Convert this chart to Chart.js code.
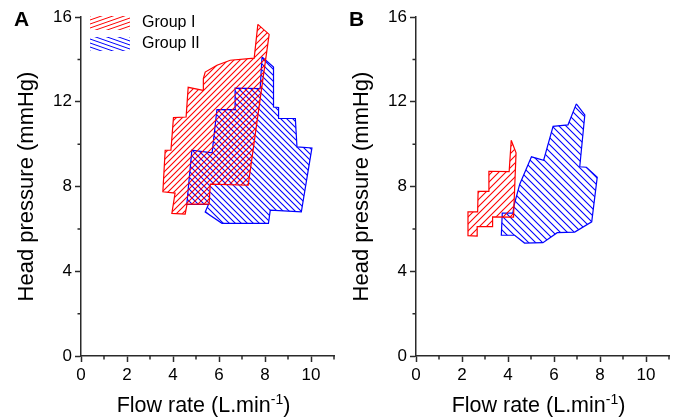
<!DOCTYPE html>
<html><head><meta charset="utf-8">
<script src="https://cdn.jsdelivr.net/npm/chart.js@4.4.0/dist/chart.umd.min.js"></script>
<style>
html,body{margin:0;padding:0;background:#fff;}
#wrap{position:relative;width:693px;height:419px;overflow:hidden;background:#fff;}
.pan{position:absolute;top:0;width:346px;height:419px;}
</style></head><body>
<div id="wrap">
<div class="pan" style="left:0px"><canvas id="cA" width="346" height="419"></canvas></div>
<div class="pan" style="left:335px"><canvas id="cB" width="346" height="419"></canvas></div>
</div>
<script>
// ---------------- data ----------------
const groupNames = ['Group I', 'Group II'];
const panelLetters = ['A', 'B'];
const xTitleMain = 'Flow rate (L.min';
const xTitleSup = '-1';
const xTitleTail = ')';
const yTitle = 'Head pressure (mmHg)';
const xMajorTicks = [0, 2, 4, 6, 8, 10];
const xMinorTicks = [1, 3, 5, 7, 9, 11];
const yMajorTicks = [0, 4, 8, 12, 16];
const yMinorTicks = [2, 6, 10, 14];

// Panel A, Group I (outline vertices: flow rate, head pressure)
const a1x = [7.69, 8.18, 7.27, 5.62, 5.57, 4.61, 4.53, 3.95, 4.09, 3.56, 3.66, 3.91, 4.02, 4.57, 4.66, 5.31, 5.32, 5.40, 5.91, 6.49, 7.53];
const a1y = [15.65, 15.18, 8.06, 8.11, 7.17, 7.17, 6.70, 6.73, 7.69, 7.75, 9.71, 9.71, 11.25, 11.28, 12.68, 12.54, 13.09, 13.40, 13.72, 13.96, 14.06];
// Panel A, Group II
const a2x = [7.87, 8.37, 8.37, 8.59, 8.59, 9.32, 9.39, 10.04, 9.58, 8.23, 8.15, 6.13, 5.40, 5.54, 4.60, 4.82, 5.70, 5.91, 6.70, 6.70, 7.79];
const a2y = [14.11, 13.64, 11.75, 11.73, 11.21, 11.21, 9.87, 9.82, 6.80, 6.88, 6.26, 6.26, 6.80, 7.15, 7.15, 9.71, 9.59, 11.63, 11.63, 12.64, 12.62];
// Panel B, Group I
const b1x = [4.14, 4.35, 4.24, 3.33, 3.33, 2.66, 2.66, 2.26, 2.26, 2.68, 2.70, 3.14, 3.17, 4.05];
const b1y = [10.18, 9.59, 6.55, 6.57, 6.11, 6.11, 5.66, 5.68, 6.80, 6.80, 7.77, 7.77, 8.72, 8.70];
// Panel B, Group II
const b2x = [6.97, 7.34, 7.12, 7.41, 7.88, 7.64, 6.90, 6.14, 5.52, 4.72, 4.29, 3.71, 3.75, 4.21, 4.27, 4.51, 5.02, 5.55, 5.96, 6.61];
const b2y = [11.90, 11.38, 8.93, 8.91, 8.44, 6.33, 5.85, 5.82, 5.35, 5.33, 5.70, 5.70, 6.74, 6.74, 7.14, 8.11, 9.40, 9.24, 10.84, 10.91];

// ---------------- helpers ----------------
const FONT = '"Liberation Sans", Arial, Helvetica, sans-serif';
const RED = '#ff0000', BLUE = '#0000ff', AXIS = '#2a2a2a';

function closed(xs, ys) {
  const pts = xs.map((x, i) => ({x: x, y: ys[i]}));
  pts.push({x: xs[0], y: ys[0]});
  return pts;
}
function hatch(color, size, dir) {
  const c = document.createElement('canvas');
  c.width = size; c.height = size;
  const g = c.getContext('2d');
  g.strokeStyle = color; g.lineWidth = 1.1;
  g.beginPath();
  if (dir > 0) {
    g.moveTo(-1, size + 1); g.lineTo(size + 1, -1);
    g.moveTo(-1, 1); g.lineTo(1, -1);
    g.moveTo(size - 1, size + 1); g.lineTo(size + 1, size - 1);
  } else {
    g.moveTo(-1, -1); g.lineTo(size + 1, size + 1);
    g.moveTo(size - 1, -1); g.lineTo(size + 1, 1);
    g.moveTo(-1, size - 1); g.lineTo(1, size + 1);
  }
  g.stroke();
  return g.createPattern(c, 'repeat');
}

const decor = {
  id: 'decor',
  afterDraw(chart, args, opts) {
    const {ctx, scales: {x, y}} = chart;
    ctx.save();
    // minor ticks
    ctx.strokeStyle = AXIS; ctx.lineWidth = 1.5;
    ctx.beginPath();
    xMinorTicks.forEach(v => { const p = x.getPixelForValue(v); ctx.moveTo(p, y.bottom); ctx.lineTo(p, y.bottom + 3.5); });
    yMinorTicks.forEach(v => { const p = y.getPixelForValue(v); ctx.moveTo(x.left, p); ctx.lineTo(x.left - 3.5, p); });
    ctx.stroke();
    // x title with superscript
    ctx.fillStyle = '#000';
    ctx.textBaseline = 'alphabetic';
    ctx.textAlign = 'left';
    const fMain = '21.5px ' + FONT, fSup = '14px ' + FONT;
    ctx.font = fMain;
    const w1 = ctx.measureText(xTitleMain).width, w3 = ctx.measureText(xTitleTail).width;
    ctx.font = fSup;
    const w2 = ctx.measureText(xTitleSup).width;
    const cx = (x.left + x.right) / 2 - 4;
    let sx = cx - (w1 + w2 + w3) / 2;
    const base = 412;
    ctx.font = fMain; ctx.fillText(xTitleMain, sx, base);
    ctx.font = fSup; ctx.fillText(xTitleSup, sx + w1, base - 8);
    ctx.font = fMain; ctx.fillText(xTitleTail, sx + w1 + w2, base);
    // panel letter
    ctx.font = 'bold 21px ' + FONT;
    ctx.fillText(opts.letter, opts.letterX, 26);
    // legend
    if (opts.legend) {
      const items = [[RED, 1, 16], [BLUE, -1, 37]];
      items.forEach((it, i) => {
        const [col, dir, top] = it;
        const lx = 90, w = 40, h = 14;
        ctx.save();
        ctx.beginPath(); ctx.rect(lx, top, w, h); ctx.clip();
        ctx.strokeStyle = col; ctx.lineWidth = 1;
        ctx.beginPath();
        for (let k = -30; k < 40; k += 4) {
          if (dir > 0) { ctx.moveTo(lx, top + k + 14); ctx.lineTo(lx + w, top + k); }
          else { ctx.moveTo(lx, top + k); ctx.lineTo(lx + w, top + k + 14); }
        }
        ctx.stroke();
        ctx.restore();
        ctx.fillStyle = '#000';
        ctx.font = '16px ' + FONT;
        ctx.textBaseline = 'middle';
        ctx.fillText(groupNames[i], 142, top + 7);
      });
    }
    ctx.restore();
  }
};

function makeChart(id, d1, d2, spacing, letter, letterX, legend) {
  const ctx = document.getElementById(id).getContext('2d');
  return new Chart(ctx, {
    type: 'scatter',
    data: {
      datasets: [
        {label: groupNames[0], data: d1, showLine: true, fill: 'shape', borderColor: RED, borderWidth: 1.2,
         backgroundColor: hatch(RED, spacing, 1), pointRadius: 0, tension: 0},
        {label: groupNames[1], data: d2, showLine: true, fill: 'shape', borderColor: BLUE, borderWidth: 1.2,
         backgroundColor: hatch(BLUE, spacing, -1), pointRadius: 0, tension: 0}
      ]
    },
    options: {
      responsive: false, animation: false, devicePixelRatio: 1,
      layout: {padding: {left: 0, right: 12, top: 17, bottom: 0}},
      plugins: {legend: {display: false}, tooltip: {enabled: false}, decor: {letter, letterX, legend}},
      scales: {
        x: {
          type: 'linear', min: 0, max: 11,
          afterBuildTicks: s => { s.ticks = xMajorTicks.map(v => ({value: v})); },
          afterFit: s => { s.height = 63; },
          ticks: {color: '#000', font: {size: 17, family: FONT}, padding: 3, maxRotation: 0},
          grid: {drawOnChartArea: false, drawTicks: true, tickLength: 6, tickColor: AXIS, tickWidth: 1.5},
          border: {display: true, color: AXIS, width: 1.5}
        },
        y: {
          type: 'linear', min: 0, max: 16,
          afterBuildTicks: s => { s.ticks = yMajorTicks.map(v => ({value: v})); },
          afterFit: s => { s.width = 81; },
          ticks: {color: '#000', font: {size: 17, family: FONT}, padding: 3},
          grid: {drawOnChartArea: false, drawTicks: true, tickLength: 6, tickColor: AXIS, tickWidth: 1.5},
          border: {display: true, color: AXIS, width: 1.5},
          title: {display: true, text: yTitle, color: '#000', font: {size: 22, family: FONT}, padding: {top: 14, bottom: 0}}
        }
      }
    },
    plugins: [decor]
  });
}

makeChart('cA', closed(a1x, a1y), closed(a2x, a2y), 6, panelLetters[0], 14, true);
makeChart('cB', closed(b1x, b1y), closed(b2x, b2y), 7, panelLetters[1], 14, false);
</script>
</body></html>
